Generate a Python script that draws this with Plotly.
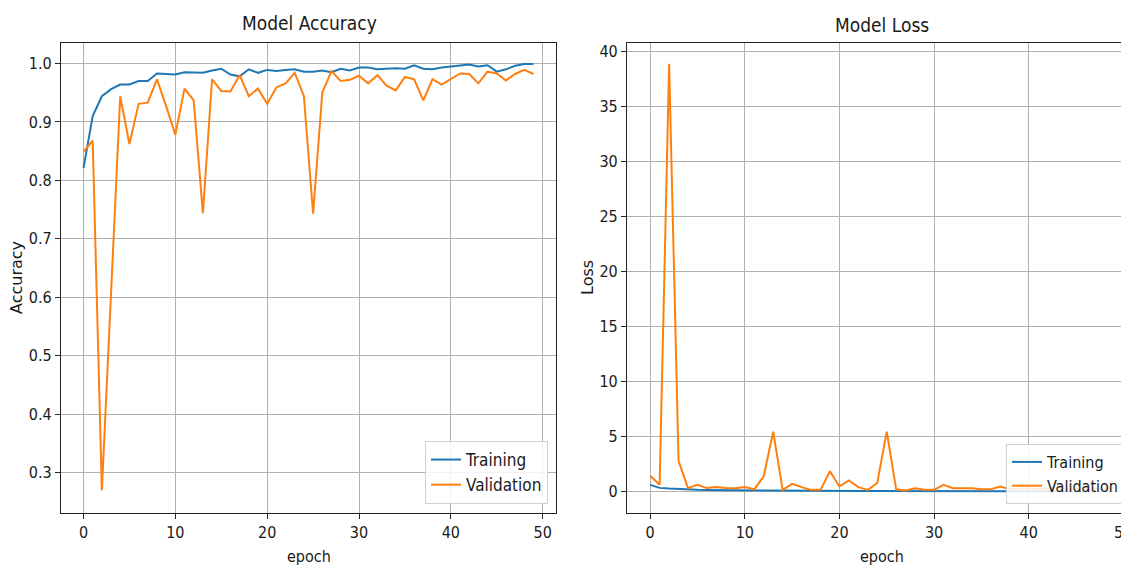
import plotly.graph_objects as go

epochs = list(range(50))

train_acc = [0.821, 0.910, 0.944, 0.956, 0.964, 0.964, 0.970, 0.970, 0.983, 0.982,
             0.981, 0.985, 0.985, 0.984, 0.988, 0.991, 0.981, 0.978, 0.990, 0.984,
             0.989, 0.987, 0.989, 0.990, 0.986, 0.986, 0.988, 0.985, 0.991, 0.988,
             0.993, 0.993, 0.990, 0.991, 0.992, 0.991, 0.997, 0.991, 0.990, 0.993,
             0.995, 0.997, 0.998, 0.995, 0.997, 0.986, 0.990, 0.996, 0.999, 0.999]
val_acc = [0.849, 0.868, 0.270, 0.610, 0.944, 0.862, 0.931, 0.933, 0.973, 0.927,
           0.878, 0.957, 0.937, 0.744, 0.973, 0.953, 0.952, 0.980, 0.944, 0.957,
           0.931, 0.959, 0.966, 0.984, 0.944, 0.743, 0.950, 0.987, 0.970, 0.972,
           0.979, 0.966, 0.980, 0.962, 0.954, 0.977, 0.973, 0.937, 0.973, 0.964,
           0.973, 0.983, 0.982, 0.966, 0.986, 0.983, 0.971, 0.982, 0.989, 0.982]
train_loss = [0.60, 0.33, 0.27, 0.22, 0.18, 0.15, 0.14, 0.12, 0.11, 0.10,
              0.10, 0.09, 0.08, 0.08, 0.07, 0.07, 0.08, 0.07, 0.06, 0.06,
              0.06, 0.06, 0.05, 0.05, 0.05, 0.05, 0.05, 0.05, 0.04, 0.04,
              0.04, 0.04, 0.04, 0.04, 0.03, 0.03, 0.03, 0.03, 0.03, 0.03,
              0.03, 0.02, 0.02, 0.02, 0.02, 0.03, 0.03, 0.02, 0.02, 0.02]
val_loss = [1.44, 0.61, 38.9, 2.76, 0.31, 0.61, 0.31, 0.40, 0.31, 0.30,
            0.40, 0.20, 1.38, 5.45, 0.15, 0.70, 0.40, 0.15, 0.15, 1.84,
            0.46, 1.00, 0.40, 0.15, 0.77, 5.45, 0.20, 0.10, 0.30, 0.15,
            0.15, 0.60, 0.30, 0.30, 0.30, 0.20, 0.20, 0.45, 0.20, 0.25,
            0.30, 0.20, 0.25, 0.40, 0.20, 0.25, 0.30, 0.20, 0.25, 0.35]

titles = ["Model Accuracy", "Model Loss"]
x_label = "epoch"
y_labels = ["Accuracy", "Loss"]
series_names = ["Training", "Validation"]

BLUE = "#1f77b4"
ORANGE = "#ff7f0e"
COND = "DejaVu Sans Condensed, Liberation Sans Narrow, DejaVu Sans, sans-serif"
REG = "DejaVu Sans, sans-serif"
TXT = "#1a1a1a"

W, H = 1129, 566
OFF = 8  # page body margin


def px(x):
    return (x - OFF) / W


def py(y):
    return 1 - (y - OFF) / H


fig = go.Figure()
fig.add_trace(go.Scatter(x=epochs, y=train_acc, mode="lines", name=series_names[0],
                         line=dict(color=BLUE, width=2), xaxis="x", yaxis="y", legend="legend"))
fig.add_trace(go.Scatter(x=epochs, y=val_acc, mode="lines", name=series_names[1],
                         line=dict(color=ORANGE, width=2), xaxis="x", yaxis="y", legend="legend"))
fig.add_trace(go.Scatter(x=epochs, y=train_loss, mode="lines", name=series_names[0],
                         line=dict(color=BLUE, width=2), xaxis="x2", yaxis="y2", legend="legend2"))
fig.add_trace(go.Scatter(x=epochs, y=val_loss, mode="lines", name=series_names[1],
                         line=dict(color=ORANGE, width=2), xaxis="x2", yaxis="y2", legend="legend2"))

axis_common = dict(showgrid=True, gridcolor="#b0b0b0", gridwidth=1, zeroline=False,
                   showline=True, linecolor="#222", linewidth=1.2,
                   ticks="outside", ticklen=5, tickcolor="#222", tickwidth=1,
                   tickfont=dict(family=COND, size=16, color=TXT))

y_dom = [py(512.5), py(43)]
fig.update_layout(
    width=W, height=H,
    margin=dict(l=0, r=0, t=0, b=0),
    paper_bgcolor="white", plot_bgcolor="white",
    xaxis=dict(domain=[px(61), px(556)], range=[-2.45, 51.45], tick0=0, dtick=10,
               mirror=True, anchor="y", **axis_common),
    yaxis=dict(domain=y_dom, range=[0.232, 1.035], tick0=0.3, dtick=0.1, tickformat=".1f",
               mirror=True, anchor="x", **axis_common),
    xaxis2=dict(domain=[px(627), 1.0], range=[-2.45, 51.45], tick0=0, dtick=10,
                mirror=True, anchor="y2", **axis_common),
    yaxis2=dict(domain=y_dom, range=[-1.91, 40.8], tick0=0, dtick=5,
                mirror=True, anchor="x2", **axis_common),
    legend=dict(x=px(548), y=py(504), xanchor="right", yanchor="bottom",
                bgcolor="rgba(255,255,255,0.85)", bordercolor="#d0d0d0", borderwidth=1,
                font=dict(family=COND, size=17, color=TXT), itemwidth=30,
                tracegroupgap=0),
    legend2=dict(x=px(1006), y=py(504), xanchor="left", yanchor="bottom",
                 bgcolor="rgba(255,255,255,0.85)", bordercolor="#d0d0d0", borderwidth=1,
                 font=dict(family=COND, size=16, color=TXT), itemwidth=30,
                 tracegroupgap=0),
    showlegend=True,
)

annotations = [
    dict(text=titles[0], x=px(309), y=py(23), font=dict(family=COND, size=19, color=TXT)),
    dict(text=titles[1], x=px(882), y=py(25), font=dict(family=COND, size=19, color=TXT)),
    dict(text=x_label, x=px(309), y=py(556), font=dict(family=COND, size=16, color=TXT)),
    dict(text=x_label, x=px(882), y=py(556), font=dict(family=COND, size=16, color=TXT)),
    dict(text=y_labels[0], x=px(16), y=py(278), textangle=-90, font=dict(family=REG, size=16, color=TXT)),
    dict(text=y_labels[1], x=px(587), y=py(278), textangle=-90, font=dict(family=REG, size=16, color=TXT)),
]
for a in annotations:
    a.update(xref="paper", yref="paper", showarrow=False, xanchor="center", yanchor="middle")
fig.update_layout(annotations=annotations)

fig.write_html("out.html")
